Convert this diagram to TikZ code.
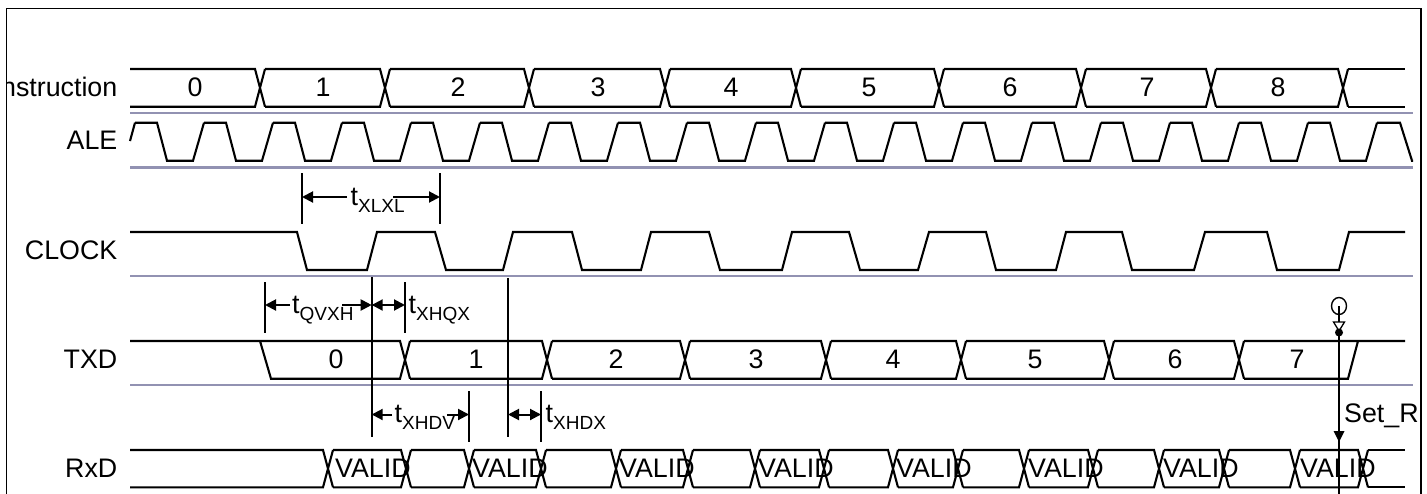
\documentclass[tikz,border=0pt]{standalone}
\usepackage{fontspec}
\setmainfont{Liberation Sans}
\usetikzlibrary{arrows.meta}
\tikzset{
  wave/.style={line width=2.1pt,black,line join=miter},
  sepline/.style={line width=2.6pt,draw=sepcol},
  bar/.style={line width=1.8pt,black},
  dimline/.style={line width=2pt,black},
  oneway/.style={dimline,-{Triangle[length=11pt,width=11pt]}},
  twoway/.style={dimline,{Triangle[length=11pt,width=11pt]}-{Triangle[length=11pt,width=11pt]}},
  lbl/.style={inner sep=0pt,font=\fontsize{26.8}{30}\selectfont},
}
\definecolor{sepcol}{RGB}{146,146,178}
\newcommand{\tlab}[4]{\node[lbl,anchor=base west] (#1) at (#2,#3) {t\raisebox{-7.5pt}{\fontsize{19}{19}\selectfont #4}};}
\begin{document}
\begin{tikzpicture}[x=1pt,y=-1pt]
\useasboundingbox (0,0) rectangle (1427,493);
\fill[white] (0,0) rectangle (1427,493);
\begin{scope}
\clip (0,0) rectangle (1427,493);
\draw[line width=1.9pt] (6.5,8.5) rectangle (1421,520);
% separators
\foreach \y in {113,167.5,276,385} \draw[sepline] (130,\y) -- (1413,\y);
% row labels
\begin{scope}
\clip (7,0) rectangle (200,120);
\node[lbl,anchor=base east] (lInstr) at (117.5,96) {Instruction};
\end{scope}
\node[lbl,anchor=base east] (lAle) at (117.5,149) {ALE};
\node[lbl,anchor=base east] (lClock) at (117.5,259) {CLOCK};
\node[lbl,anchor=base east] (lTxd) at (117.5,368) {TXD};
\node[lbl,anchor=base east] (lRxd) at (117.5,477) {RxD};
% Instruction bus
\draw[wave] (130,69) -- (255,69) -- (265,106.7) (130,106.7) -- (255,106.7) -- (265,69);
\foreach \a/\b in {260/385,385/529,529/665,665/796,796/939,939/1081,1081/1211,1211/1343}
  \draw[wave] (\a+5,69) -- (\b-5,69) -- (\b+5,106.7) (\a+5,106.7) -- (\b-5,106.7) -- (\b+5,69);
\draw[wave] (1348,69) -- (1405,69) (1348,106.7) -- (1405,106.7);
\foreach \x/\t in {195/0,323/1,458/2,598/3,731/4,869/5,1010/6,1147/7,1278/8}
  \node[lbl,anchor=base] at (\x,96) {\t};
% ALE
\draw[wave] (130,141) -- (135,122.7);
\foreach \k in {0,...,17}
  \draw[wave] (135+69*\k,122.7) -- (157+69*\k,122.7) -- (167+69*\k,160.7) -- (193+69*\k,160.7) -- (204+69*\k,122.7);
\draw[wave] (1377,122.7) -- (1400,122.7) -- (1412,160.7) -- (1413,160.7);
% CLOCK
\draw[wave] (130,232) -- (297,232) -- (307,270) -- (367,270) -- (377,232) -- (435,232) -- (446,270) -- (503,270) -- (513,232) -- (572,232) -- (582,270) -- (641,270) -- (651,232) -- (709,232) -- (720,270) -- (782,270) -- (792,232) -- (849,232) -- (860,270) -- (918,270) -- (929,232) -- (986,232) -- (996,270) -- (1056,270) -- (1066,232) -- (1122,232) -- (1132,270) -- (1194,270) -- (1205,232) -- (1267,232) -- (1277,270) -- (1339,270) -- (1349,232) -- (1405,232);
% TXD
\draw[wave] (130,341) -- (400,341) -- (410,378.7) (260,341) -- (271,378.7) -- (400,378.7) -- (410,341);
\foreach \a/\b in {405/547,547/685,685/826,826/961,961/1109,1109/1239}
  \draw[wave] (\a+5,341) -- (\b-5,341) -- (\b+5,378.7) (\a+5,378.7) -- (\b-5,378.7) -- (\b+5,341);
\draw[wave] (1244,341) -- (1405,341) (1358,341) -- (1348,378.7) -- (1244,378.7);
\foreach \x/\t in {336/0,476/1,616/2,756/3,893/4,1035/5,1175/6,1297/7}
  \node[lbl,anchor=base] at (\x,368) {\t};
% RxD
\draw[wave] (130,450) -- (323,450) -- (333,487.3) (130,487.3) -- (323,487.3) -- (333,450);
\foreach \a/\b in {328/406,406/469,469/541,541/616,616/688,688/755,755/824,824/893,893/958,958/1024,1024/1093,1093/1159,1159/1224,1224/1295,1295/1363}
  \draw[wave] (\a+5,450) -- (\b-5,450) -- (\b+5,487.3) (\a+5,487.3) -- (\b-5,487.3) -- (\b+5,450);
\draw[wave] (1368,450) -- (1405,450) (1368,487.3) -- (1405,487.3);
\foreach \x in {335,472,619,758,896,1028,1163,1300}
  \node[lbl,anchor=base west] at (\x,477) {VALID};
% timing bars
\coordinate (b1t) at (302,173); \coordinate (b1b) at (302,224);
\coordinate (b2t) at (440,173); \coordinate (b2b) at (440,224);
\coordinate (b3t) at (265,282); \coordinate (b3b) at (265,333);
\coordinate (b4t) at (371.7,277); \coordinate (b4b) at (371.7,437);
\coordinate (b5t) at (405,282); \coordinate (b5b) at (405,333);
\coordinate (b6t) at (508,278); \coordinate (b6b) at (508,437);
\coordinate (b7t) at (469,391); \coordinate (b7b) at (469,442);
\coordinate (b8t) at (541,391); \coordinate (b8b) at (541,442);
\foreach \n in {1,...,8} \draw[bar] (b\n t) -- (b\n b);
% tXLXL
\coordinate (a1) at (302,197); \coordinate (a1l) at (347,197); \coordinate (a1r) at (393,197); \coordinate (a2) at (440,197);
\draw[oneway] (a1l) -- (a1); \draw[oneway] (a1r) -- (a2);
\tlab{tXLXL}{350.5}{205}{XLXL}
% tQVXH
\coordinate (a3) at (265,305); \coordinate (a3l) at (290,305); \coordinate (a3r) at (342,305); \coordinate (a4) at (371.7,305);
\draw[oneway] (a3l) -- (a3); \draw[oneway] (a3r) -- (a4);
\tlab{tQVXH}{292}{313}{QVXH}
% tXHQX
\coordinate (a5) at (405,305);
\draw[twoway] (a4) -- (a5);
\tlab{tXHQX}{408.5}{313}{XHQX}
% tXHDV
\coordinate (a6) at (371.7,414.5); \coordinate (a6l) at (392,414.5); \coordinate (a6r) at (447,414.5); \coordinate (a7) at (469,414.5);
\draw[oneway] (a6l) -- (a6); \draw[oneway] (a6r) -- (a7);
\tlab{tXHDV}{394.5}{422}{XHDV}
% tXHDX
\coordinate (a8) at (508,414.5); \coordinate (a9) at (541,414.5);
\draw[twoway] (a8) -- (a9);
\tlab{tXHDX}{545.5}{422}{XHDX}
% Set_R marker
\coordinate (mTop) at (1339,306); \coordinate (mBot) at (1339,495);
\draw[line width=1.4pt] (mTop) ellipse [x radius=7.5,y radius=8.5];
\draw[line width=1.8pt] (mTop) -- (mBot);
\fill[white] (1333.5,322) -- (1344.5,322) -- (1339,331) -- cycle;
\draw[line width=1.3pt] (1333.5,322) -- (1344.5,322) -- (1339,331) -- cycle;
\fill[black] (1339,332.5) circle [radius=4];
\fill[black] (1333.5,431) -- (1344.5,431) -- (1339,442) -- cycle;
\node[lbl,anchor=base west] (setr) at (1344,422) {Set\_R};
\end{scope}
\end{tikzpicture}
\end{document}
